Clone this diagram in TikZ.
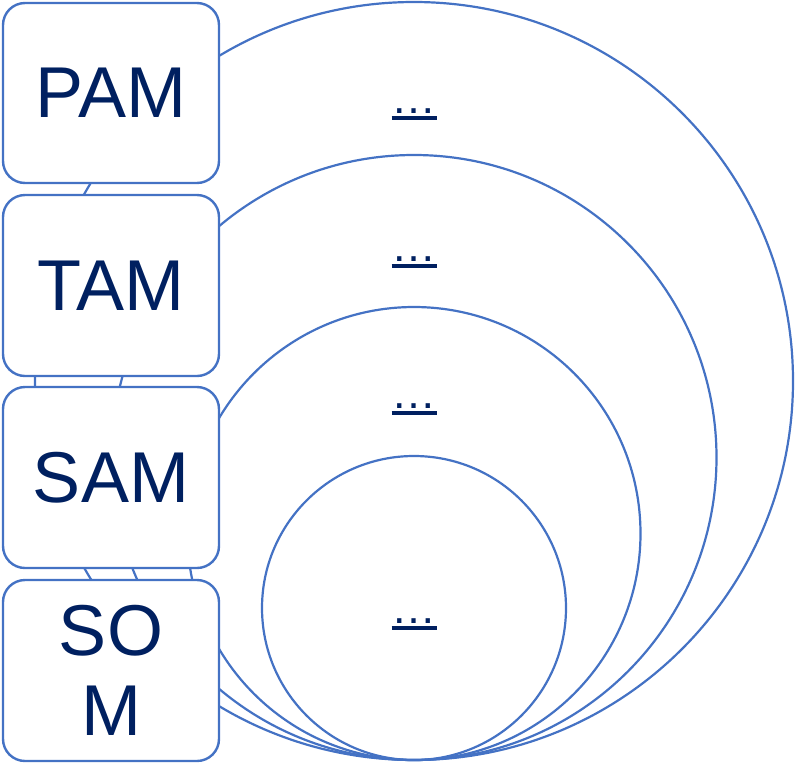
\documentclass[tikz,border=0pt]{standalone}
\usepackage{fontspec}
\setmainfont{Liberation Sans}
\definecolor{ringblue}{HTML}{4472C4}
\definecolor{navy}{HTML}{002060}
% underlined placeholder, as in the slide
\newcommand{\linkdots}{\setbox0\hbox{\fontsize{45}{50}\selectfont …}\rlap{\copy0}\rule[-7pt]{\wd0}{4.5pt}}

\begin{document}
\begin{tikzpicture}[x=1pt, y=-1pt,
  ring/.style={draw=ringblue, line width=2.2pt, circle, inner sep=0pt},
  market/.style={draw=ringblue, line width=2.4pt, fill=white, rounded corners=22pt, minimum width=216pt, minimum height=181pt, align=center, text=navy, font=\fontsize{72}{80}\selectfont},
  dots/.style={text=navy, anchor=base, inner sep=0pt}]
\useasboundingbox (0,0) rectangle (798,764);
% nested rings, all touching at the bottom
\node[ring, minimum size=758pt] (pamring) at (414,381) {};
\node[ring, minimum size=605pt] (tamring) at (414,457.5) {};
\node[ring, minimum size=453pt] (samring) at (414,533.5) {};
\node[ring, minimum size=304pt] (somring) at (414,608) {};
\foreach \r/\y in {pam/113,tam/261,sam/408,som/623}{\node[dots] (\r dots) at (414,\y) {\linkdots};}
% labels on the left
\node[market, minimum height=180pt] (pam) at (111,93) {PAM};
\node[market] (tam) at (111,285.5) {TAM};
\node[market] (sam) at (111,477.5) {SAM};
\node[market] (som) at (111,670.5) {SO\\M};
\end{tikzpicture}
\end{document}
